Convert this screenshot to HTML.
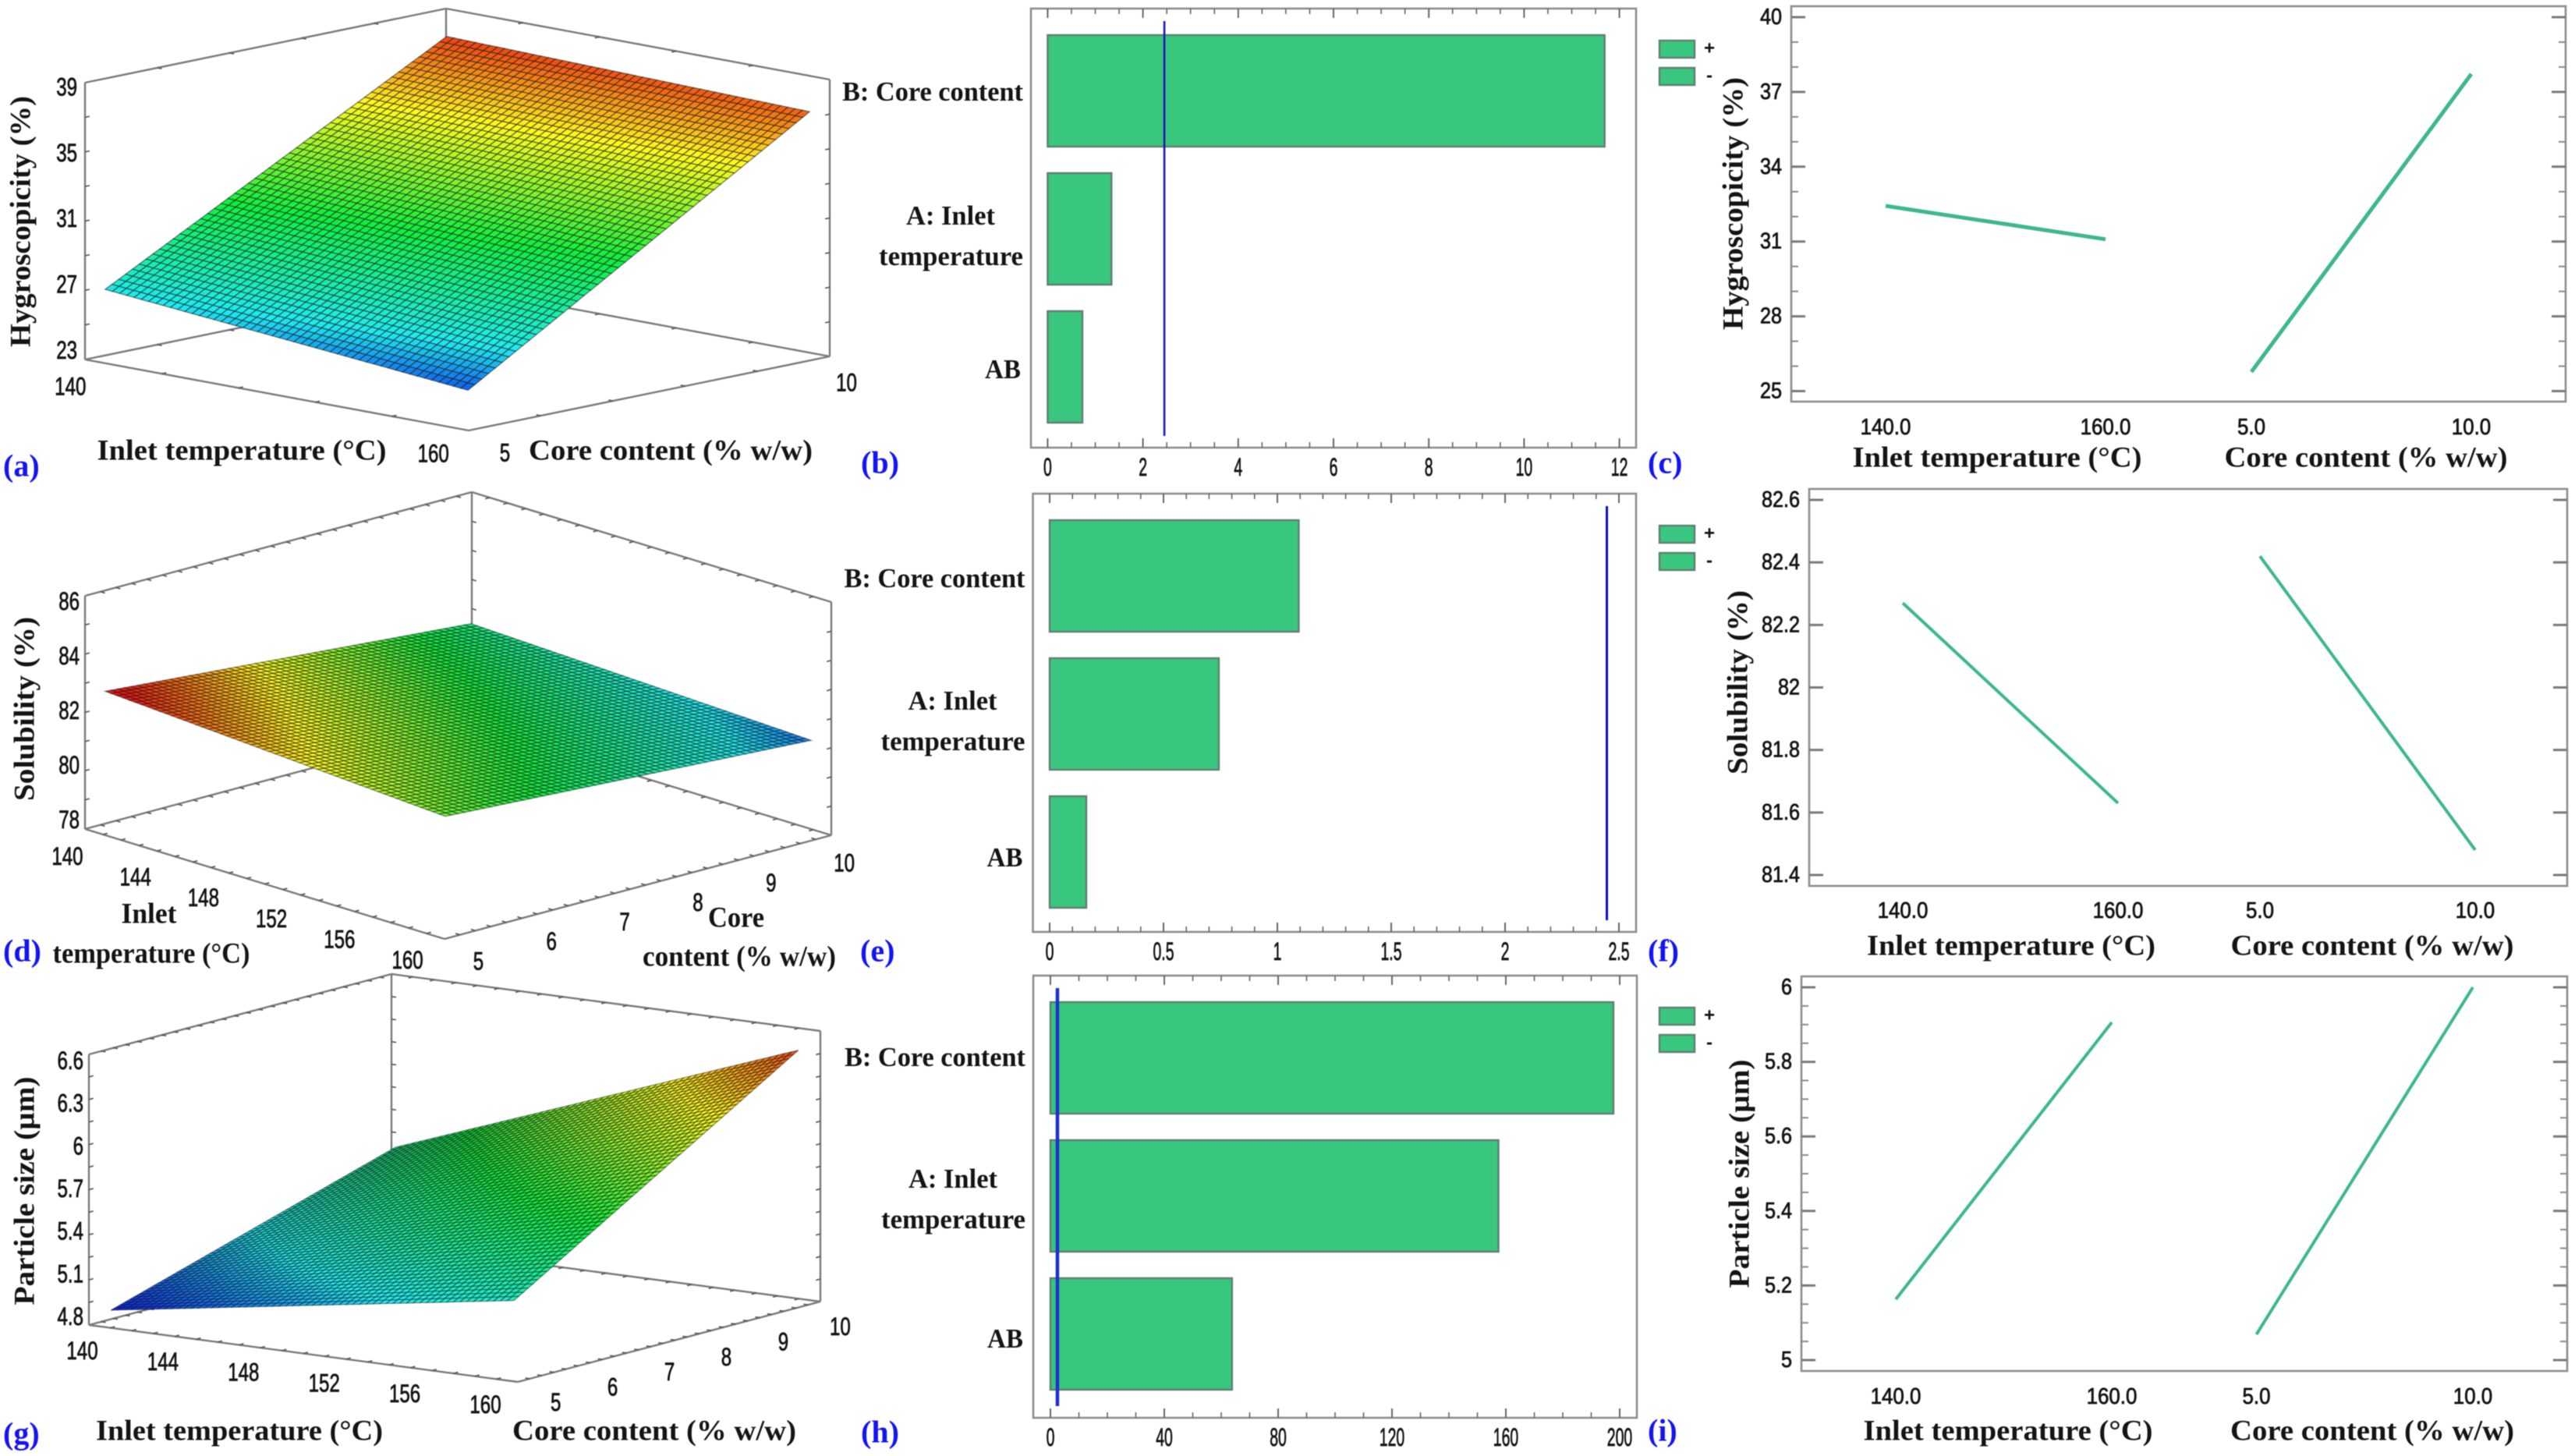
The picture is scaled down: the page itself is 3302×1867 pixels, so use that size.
<!DOCTYPE html>
<html lang="en">
<head>
<meta charset="utf-8">
<title>Response surface, Pareto and one-factor effect plots</title>
<style>
html,body{margin:0;padding:0;background:#fff;width:3302px;height:1867px;overflow:hidden}
svg{display:block;filter:blur(.6px)}
.title{font-family:"Liberation Serif",serif;font-weight:700;font-size:37px;fill:#141414;dominant-baseline:central;text-anchor:middle}
.ytitle{font-family:"Liberation Serif",serif;font-weight:700;font-size:37px;fill:#141414;dominant-baseline:central;text-anchor:middle}
.panel{font-family:"Liberation Serif",serif;font-weight:700;font-size:40px;fill:#1414f0;dominant-baseline:central}
.num{font-family:"Liberation Sans",sans-serif;fill:#141414;stroke:#141414;stroke-width:.8;dominant-baseline:central}
.cat{font-family:"Liberation Serif",serif;font-weight:700;font-size:35px;fill:#141414;dominant-baseline:central}
.sign{font-family:"Liberation Sans",sans-serif;font-weight:700;font-size:24px;fill:#111;dominant-baseline:central;text-anchor:middle}
</style>
</head>
<body>
<svg id="figure" xmlns="http://www.w3.org/2000/svg" width="3302" height="1867" viewBox="0 0 3302 1867">
  <rect x="0" y="0" width="3302" height="1867" fill="#fff"/>

  <g id="pa"></g>
  <g id="pb"></g>
  <g id="pc"></g>
  <g id="pd"></g>
  <g id="pe"></g>
  <g id="pf"></g>
  <g id="pg"></g>
  <g id="ph"></g>
  <g id="pi"></g>

  <text class="panel" x="4" y="597">(a)</text>
  <text class="panel" x="1104" y="593">(b)</text>
  <text class="panel" x="2113" y="593">(c)</text>
  <text class="panel" x="4" y="1219">(d)</text>
  <text class="panel" x="1103" y="1219">(e)</text>
  <text class="panel" x="2113" y="1219">(f)</text>
  <text class="panel" x="4" y="1838">(g)</text>
  <text class="panel" x="1104" y="1836">(h)</text>
  <text class="panel" x="2113" y="1834">(i)</text>

  <text class="ytitle" x="27" y="284" transform="rotate(-90 27 284)" textLength="322" lengthAdjust="spacingAndGlyphs">Hygroscopicity (%)</text>
  <text class="title" x="310" y="578" textLength="371" lengthAdjust="spacingAndGlyphs">Inlet temperature (°C)</text>
  <text class="title" x="860" y="578" textLength="364" lengthAdjust="spacingAndGlyphs">Core content (% w/w)</text>

  <text class="ytitle" x="32" y="909" transform="rotate(-90 32 909)" textLength="236" lengthAdjust="spacingAndGlyphs">Solubility (%)</text>
  <text class="title" x="191" y="1172" textLength="71" lengthAdjust="spacingAndGlyphs">Inlet</text>
  <text class="title" x="194" y="1223" textLength="253" lengthAdjust="spacingAndGlyphs">temperature (°C)</text>
  <text class="title" x="944" y="1177" textLength="72" lengthAdjust="spacingAndGlyphs">Core</text>
  <text class="title" x="948" y="1227" textLength="248" lengthAdjust="spacingAndGlyphs">content (% w/w)</text>

  <text class="ytitle" x="32" y="1527" transform="rotate(-90 32 1527)" textLength="293" lengthAdjust="spacingAndGlyphs">Particle size (µm)</text>
  <text class="title" x="307" y="1835" textLength="368" lengthAdjust="spacingAndGlyphs">Inlet temperature (°C)</text>
  <text class="title" x="839" y="1835" textLength="364" lengthAdjust="spacingAndGlyphs">Core content (% w/w)</text>

  <text class="ytitle" x="2223" y="261" transform="rotate(-90 2223 261)" textLength="324" lengthAdjust="spacingAndGlyphs">Hygroscopicity (%)</text>
  <text class="title" x="2561" y="587" textLength="371" lengthAdjust="spacingAndGlyphs">Inlet temperature (°C)</text>
  <text class="title" x="3034" y="587" textLength="363" lengthAdjust="spacingAndGlyphs">Core content (% w/w)</text>

  <text class="ytitle" x="2229" y="875" transform="rotate(-90 2229 875)" textLength="236" lengthAdjust="spacingAndGlyphs">Solubility (%)</text>
  <text class="title" x="2579" y="1213" textLength="370" lengthAdjust="spacingAndGlyphs">Inlet temperature (°C)</text>
  <text class="title" x="3042" y="1213" textLength="363" lengthAdjust="spacingAndGlyphs">Core content (% w/w)</text>

  <text class="ytitle" x="2231" y="1505" transform="rotate(-90 2231 1505)" textLength="293" lengthAdjust="spacingAndGlyphs">Particle size (µm)</text>
  <text class="title" x="2575" y="1835" textLength="371" lengthAdjust="spacingAndGlyphs">Inlet temperature (°C)</text>
  <text class="title" x="3042" y="1835" textLength="364" lengthAdjust="spacingAndGlyphs">Core content (% w/w)</text>
</svg>

<script>
// ---------- shared categories and factor levels ----------
const paretoCategories = [['B: Core content'], ['A: Inlet', 'temperature'], ['AB']];
const legendSigns = ['+', '-'];
const tempLevels = [140, 160];
const coreLevels = [5, 10];

// ---------- response surfaces: [[z(140,5), z(140,10)], [z(160,5), z(160,10)]] ----------
const hygroSurface = [[26.88, 37.99], [24.83, 37.5]];
const solubilitySurface = [[82.77, 81.65], [82.0, 81.19]];
const sizeSurface = [[4.855, 5.47], [5.30, 6.53]];

const hygroZTicks = ['23', '27', '31', '35', '39'];
const hygroTempTicks = ['140', '160'];
const hygroCoreTicks = ['5', '10'];
const solubilityZTicks = ['78', '80', '82', '84', '86'];
const solubilityTempTicks = ['140', '144', '148', '152', '156', '160'];
const solubilityCoreTicks = ['5', '6', '7', '8', '9', '10'];
const sizeZTicks = ['4.8', '5.1', '5.4', '5.7', '6', '6.3', '6.6'];
const sizeTempTicks = ['140', '144', '148', '152', '156', '160'];
const sizeCoreTicks = ['5', '6', '7', '8', '9', '10'];

// ---------- Pareto charts ----------
const hygroPareto = [11.69, 1.34, 0.73];
const hygroLimit = 2.45;
const hygroParetoTicks = ['0', '2', '4', '6', '8', '10', '12'];
const solubilityPareto = [1.094, 0.743, 0.161];
const solubilityLimit = 2.447;
const solubilityParetoTicks = ['0', '0.5', '1', '1.5', '2', '2.5'];
const sizePareto = [197.8, 157.4, 63.8];
const sizeLimit = 2.45;
const sizeParetoTicks = ['0', '40', '80', '120', '160', '200'];

// ---------- one-factor effects: response at low and high factor level ----------
const hygroEffectTemp = [32.43, 31.09];
const hygroEffectCore = [25.77, 37.72];
const hygroEffectTicks = ['25', '28', '31', '34', '37', '40'];
const solubilityEffectTemp = [82.27, 81.63];
const solubilityEffectCore = [82.42, 81.48];
const solubilityEffectTicks = ['81.4', '81.6', '81.8', '82', '82.2', '82.4', '82.6'];
const sizeEffectTemp = [5.163, 5.906];
const sizeEffectCore = [5.069, 6.0];
const sizeEffectTicks = ['5', '5.2', '5.4', '5.6', '5.8', '6'];
const effectTempLabels = ['140.0', '160.0'];
const effectCoreLabels = ['5.0', '10.0'];

// ---------- drawing helpers ----------
const NS = 'http://www.w3.org/2000/svg';
function make(parent, tag, attrs, name) {
  const el = document.createElementNS(NS, tag);
  for (const k in attrs) el.setAttribute(k, attrs[k]);
  
  
  parent.appendChild(el);
  return el;
}
function seg(parent, a, b, stroke, width, name) {
  return make(parent, 'line', {x1: a[0], y1: a[1], x2: b[0], y2: b[1], stroke: stroke, 'stroke-width': width}, name);
}
function numLabel(parent, x, y, str, size, digitW, anchor, name) {
  let units = 0;
  for (const ch of str) units += (ch === '.' ? 0.5 : 1);
  const el = make(parent, 'text', {class: 'num', x: x, y: y, 'font-size': size, 'text-anchor': anchor,
    textLength: (units * digitW).toFixed(1), lengthAdjust: 'spacingAndGlyphs'}, name);
  el.textContent = str;
  return el;
}
const jetStops = [[0, 10, 25, 235], [0.18, 30, 235, 240], [0.46, 15, 240, 60], [0.76, 255, 250, 30], [1, 235, 25, 15]];
function jet(f) {
  f = Math.max(0, Math.min(1, f));
  for (let i = 1; i < jetStops.length; i++) {
    if (f <= jetStops[i][0]) {
      const a = jetStops[i - 1], b = jetStops[i], u = (f - a[0]) / (b[0] - a[0]);
      return 'rgb(' + [1, 2, 3].map(k => Math.round(a[k] + (b[k] - a[k]) * u)).join(',') + ')';
    }
  }
  return 'rgb(235,25,15)';
}

// ---------- 3D response surface ----------
function drawSurface(o) {
  const g = document.getElementById(o.id);
  const L = o.L, F = o.F, R = o.R;
  const k = o.height / (o.zMax - o.zMin);
  const scaleT = v => o.inset + (v - tempLevels[0]) / (tempLevels[1] - tempLevels[0]) * (1 - 2 * o.inset);
  const scaleC = v => o.inset + (v - coreLevels[0]) / (coreLevels[1] - coreLevels[0]) * (1 - 2 * o.inset);
  const floor = (u, w) => [L[0] + u * (F[0] - L[0]) + w * (R[0] - F[0]), L[1] + u * (F[1] - L[1]) + w * (R[1] - F[1])];
  const project = (t, c, z) => {
    const p = floor(scaleT(t), scaleC(c));
    return [p[0], p[1] - (z - o.zMin) * k];
  };
  const B = floor(0, 1), lift = p => [p[0], p[1] - o.height];
  const edge = '#7a7a7a';
  const edges = [[L, F], [F, R], [L, B], [B, R], [L, lift(L)], [R, lift(R)], [B, lift(B)], [lift(L), lift(B)], [lift(B), lift(R)]];
  edges.forEach(e => seg(g, e[0], e[1], edge, 2.4, 'box-edge'));

  // small ticks on the box edges
  const unit = (a, b) => { const d = Math.hypot(b[0] - a[0], b[1] - a[1]); return [(b[0] - a[0]) / d, (b[1] - a[1]) / d]; };
  const uc = unit(F, R), ut = unit(L, F);
  const tickSets = [
    [L, F, o.tTicks, uc], [F, R, o.cTicks, [-ut[0], -ut[1]]], [L, B, o.cTicks, ut], [B, R, o.tTicks, [-uc[0], -uc[1]]],
    [lift(L), lift(B), o.cTicks, ut], [lift(B), lift(R), o.tTicks, [-uc[0], -uc[1]]],
    [L, lift(L), o.zTickN, uc], [R, lift(R), o.zTickN, [-uc[0], -uc[1]]], [B, lift(B), o.zTickN, ut]
  ];
  tickSets.forEach(s => {
    for (let i = 1; i < s[2]; i++) {
      const f = i / s[2];
      const p = [s[0][0] + (s[1][0] - s[0][0]) * f, s[0][1] + (s[1][1] - s[0][1]) * f];
      seg(g, p, [p[0] + s[3][0] * 6, p[1] + s[3][1] * 6], '#555', 1.6, 'box-tick');
    }
  });

  // surface mesh from the corner responses
  const S = o.surface, n = o.cells;
  const zAt = (i, j) => {
    const u = i / n, w = j / n;
    return (1 - u) * (1 - w) * S[0][0] + (1 - u) * w * S[0][1] + u * (1 - w) * S[1][0] + u * w * S[1][1];
  };
  const tAt = i => tempLevels[0] + (tempLevels[1] - tempLevels[0]) * i / n;
  const cAt = j => coreLevels[0] + (coreLevels[1] - coreLevels[0]) * j / n;
  for (let i = 0; i < n; i++) {
    for (let j = 0; j < n; j++) {
      const pts = [[i, j], [i + 1, j], [i + 1, j + 1], [i, j + 1]].map(q => project(tAt(q[0]), cAt(q[1]), zAt(q[0], q[1])));
      const zc = (zAt(i, j) + zAt(i + 1, j + 1)) / 2;
      make(g, 'polygon', {points: pts.map(p => p[0].toFixed(1) + ',' + p[1].toFixed(1)).join(' '),
        fill: jet((zc - o.color[0]) / (o.color[1] - o.color[0])), stroke: o.mesh, 'stroke-width': o.meshW}, 'surface-cell');
    }
  }

  // tick labels
  o.zLabels.forEach(s => {
    numLabel(g, o.zLabelX, L[1] - (Number(s) - o.zMin) * k + o.zLabelDy, s, 32, 13.4, 'end', 'z-tick-label');
  });
  o.tLabels.forEach(s => {
    const p = floor(scaleT(Number(s)), 0);
    numLabel(g, p[0] + o.tOff[0], p[1] + o.tOff[1], s, 32, 13.4, 'middle', 'temperature-tick-label');
  });
  o.cLabels.forEach(s => {
    const p = floor(1, scaleC(Number(s)));
    numLabel(g, p[0] + o.cOff[0], p[1] + o.cOff[1], s, 32, 13.4, 'middle', 'core-tick-label');
  });
}

// ---------- Pareto chart ----------
function drawPareto(o) {
  const g = document.getElementById(o.id);
  const x = v => o.x0 + v * o.ppu;
  const barH = 143, pitch = 177;
  const barTop = i => o.top + 34 + i * pitch;
  make(g, 'rect', {x: o.left, y: o.top, width: o.right - o.left, height: o.bottom - o.top, fill: 'none', stroke: '#8e8e8e', 'stroke-width': 2.6}, 'plot-frame');

  const majors = o.ticks.map(Number);
  const last = majors[majors.length - 1] + o.minor * 0.001;
  for (let v = 0, i = 0; v <= last; i++, v = i * o.minor) {
    const major = majors.some(m => Math.abs(m - v) < o.minor * 0.01);
    const len = major ? 12 : 7;
    seg(g, [x(v), o.top], [x(v), o.top + len], '#666', major ? 2 : 1.6, 'top-tick');
    seg(g, [x(v), o.bottom], [x(v), o.bottom - len], '#666', major ? 2 : 1.6, 'bottom-tick');
  }
  o.values.forEach((v, i) => {
    make(g, 'rect', {x: x(0), y: barTop(i), width: x(v) - x(0), height: barH, fill: '#39c67e', stroke: '#5f7f6f', 'stroke-width': 2.4}, 'effect-bar');
  });
  seg(g, [x(o.limit), o.top + 16], [x(o.limit), o.bottom - 15], o.limitColor, o.limitW, 't-value-limit-line');
  o.ticks.forEach(s => {
    numLabel(g, x(Number(s)), o.tickY, s, 32, 10.8, 'middle', 'x-tick-label');
  });

  paretoCategories.forEach((lines, i) => {
    const cy = barTop(i) + barH / 2 + o.catDy[i];
    const right = o.left - 10;
    if (lines.length === 1 && i === 0) {
      const t = make(g, 'text', {class: 'cat', x: right, y: cy + 3, 'text-anchor': 'end', textLength: 232, lengthAdjust: 'spacingAndGlyphs'}, 'term-label');
      t.textContent = lines[0];
    } else if (lines.length === 2) {
      const a = make(g, 'text', {class: 'cat', x: right - 93, y: cy - 17, 'text-anchor': 'middle', textLength: 114, lengthAdjust: 'spacingAndGlyphs'}, 'term-label');
      a.textContent = lines[0];
      const b = make(g, 'text', {class: 'cat', x: right, y: cy + 35, 'text-anchor': 'end', textLength: 185, lengthAdjust: 'spacingAndGlyphs'}, 'term-label');
      b.textContent = lines[1];
    } else {
      const t = make(g, 'text', {class: 'cat', x: right - 3, y: cy + 7, 'text-anchor': 'end', textLength: 46, lengthAdjust: 'spacingAndGlyphs'}, 'term-label');
      t.textContent = lines[0];
    }
  });

  legendSigns.forEach((s, i) => {
    const y = o.top + 41 + i * 35;
    make(g, 'rect', {x: 2128, y: y, width: 45, height: 22, fill: '#39c67e', stroke: '#5f7f6f', 'stroke-width': 2.4}, 'legend-swatch');
    const t = make(g, 'text', {class: 'sign', x: 2192, y: y + 10}, 'legend-sign');
    t.textContent = s;
  });
}

// ---------- one-factor effect chart ----------
function drawEffect(o) {
  const g = document.getElementById(o.id);
  const t0 = Number(o.ticks[0]), t1 = Number(o.ticks[o.ticks.length - 1]);
  const y = v => o.yLow + (v - t0) / (t1 - t0) * (o.yHigh - o.yLow);
  const xT = v => o.xT[0] + (v - tempLevels[0]) / (tempLevels[1] - tempLevels[0]) * (o.xT[1] - o.xT[0]);
  const xC = v => o.xC[0] + (v - coreLevels[0]) / (coreLevels[1] - coreLevels[0]) * (o.xC[1] - o.xC[0]);
  make(g, 'rect', {x: o.left, y: o.top, width: o.right - o.left, height: o.bottom - o.top, fill: 'none', stroke: '#8e8e8e', 'stroke-width': 2.6}, 'plot-frame');

  if (o.minor) {
    const steps = Math.round((t1 - t0) / o.minor);
    for (let i = 0; i <= steps; i++) {
      const v = t0 + i * o.minor;
      seg(g, [o.left, y(v)], [o.left + 9, y(v)], '#8a8a8a', 2, 'minor-tick');
      seg(g, [o.right, y(v)], [o.right - 9, y(v)], '#8a8a8a', 2, 'minor-tick');
    }
  }
  o.ticks.forEach(s => {
    const v = Number(s);
    seg(g, [o.left, y(v)], [o.left + 18, y(v)], '#7a7a7a', 3, 'major-tick');
    seg(g, [o.right, y(v)], [o.right - 18, y(v)], '#7a7a7a', 3, 'major-tick');
    numLabel(g, o.left - 12, y(v), s, 29, 14, 'end', 'y-tick-label');
  });
  seg(g, [xT(tempLevels[0]), y(o.temp[0])], [xT(tempLevels[1]), y(o.temp[1])], '#3db88a', o.lineW, 'temperature-effect-line');
  seg(g, [xC(coreLevels[0]), y(o.core[0])], [xC(coreLevels[1]), y(o.core[1])], '#3db88a', o.lineW, 'core-effect-line');
  effectTempLabels.forEach((s, i) => {
    numLabel(g, xT(tempLevels[i]), o.labelY, s, 29, 14.4, 'middle', 'temperature-tick-label');
  });
  effectCoreLabels.forEach((s, i) => {
    numLabel(g, xC(coreLevels[i]), o.labelY, s, 29, 14.4, 'middle', 'core-tick-label');
  });
}

// ---------- compose the figure ----------
drawSurface({id: 'pa', L: [109, 461], F: [601, 552], R: [1064, 457], height: 355, zMin: 22.62, zMax: 39.45, inset: 0.027,
  surface: hygroSurface, cells: 50, color: [24, 38.6], mesh: 'rgba(25,25,25,.6)', meshW: 1.2,
  tTicks: 5, cTicks: 5, zTickN: 8, zLabels: hygroZTicks, tLabels: hygroTempTicks, cLabels: hygroCoreTicks,
  zLabelX: 99, zLabelDy: -4, tOff: [-32, 32], cOff: [34, 31]});
drawSurface({id: 'pd', L: [109, 1063], F: [570, 1204], R: [1066, 1071], height: 299, zMin: 77.72, zMax: 86.26, inset: 0.027,
  surface: solubilitySurface, cells: 56, color: [81.05, 82.7], mesh: 'rgba(20,20,20,.52)', meshW: 1.2,
  tTicks: 20, cTicks: 25, zTickN: 8, zLabels: solubilityZTicks, tLabels: solubilityTempTicks, cLabels: solubilityCoreTicks,
  zLabelX: 102, zLabelDy: -2, tOff: [-35, 31], cOff: [30, 32]});
drawSurface({id: 'pg', L: [114, 1699], F: [664, 1772], R: [1052, 1669], height: 347, zMin: 4.756, zMax: 6.66, inset: 0.03,
  surface: sizeSurface, cells: 60, color: [4.85, 6.62], mesh: 'rgba(20,20,20,.55)', meshW: 1.1,
  tTicks: 20, cTicks: 25, zTickN: 12, zLabels: sizeZTicks, tLabels: sizeTempTicks, cLabels: sizeCoreTicks,
  zLabelX: 107, zLabelDy: -3, tOff: [-25, 31], cOff: [37, 29]});

drawPareto({id: 'pb', left: 1322, right: 2098, top: 11, bottom: 574, x0: 1343.4, ppu: 61.1, minor: 0.5,
  ticks: hygroParetoTicks, values: hygroPareto, limit: hygroLimit, limitColor: '#1a1ab4', limitW: 2.6, tickY: 599, catDy: [-2, 0, -4]});
drawPareto({id: 'pe', left: 1324.5, right: 2098, top: 633, bottom: 1195, x0: 1346, ppu: 292, minor: 0.1,
  ticks: solubilityParetoTicks, values: solubilityPareto, limit: solubilityLimit, limitColor: '#0a0ac0', limitW: 3, tickY: 1220, catDy: [0, 0, 0]});
drawPareto({id: 'ph', left: 1325, right: 2099, top: 1251, bottom: 1818, x0: 1347, ppu: 3.65, minor: 10,
  ticks: sizeParetoTicks, values: sizePareto, limit: sizeLimit, limitColor: '#1f2fd0', limitW: 4.5, tickY: 1843, catDy: [-4, -5, -1]});

drawEffect({id: 'pc', left: 2297, right: 3290, top: 8, bottom: 515, yLow: 501.5, yHigh: 22, minor: 1,
  ticks: hygroEffectTicks, temp: hygroEffectTemp, core: hygroEffectCore, xT: [2418, 2700], xC: [2887, 3169], labelY: 548, lineW: 5});
drawEffect({id: 'pf', left: 2320, right: 3292, top: 627, bottom: 1136, yLow: 1122, yHigh: 641, minor: 0,
  ticks: solubilityEffectTicks, temp: solubilityEffectTemp, core: solubilityEffectCore, xT: [2440, 2716], xC: [2898, 3174], labelY: 1168, lineW: 4});
drawEffect({id: 'pi', left: 2310, right: 3292, top: 1252, bottom: 1758, yLow: 1744, yHigh: 1266, minor: 0.05,
  ticks: sizeEffectTicks, temp: sizeEffectTemp, core: sizeEffectCore, xT: [2431, 2708], xC: [2893.5, 3171], labelY: 1791, lineW: 4});
</script>
</body>
</html>
